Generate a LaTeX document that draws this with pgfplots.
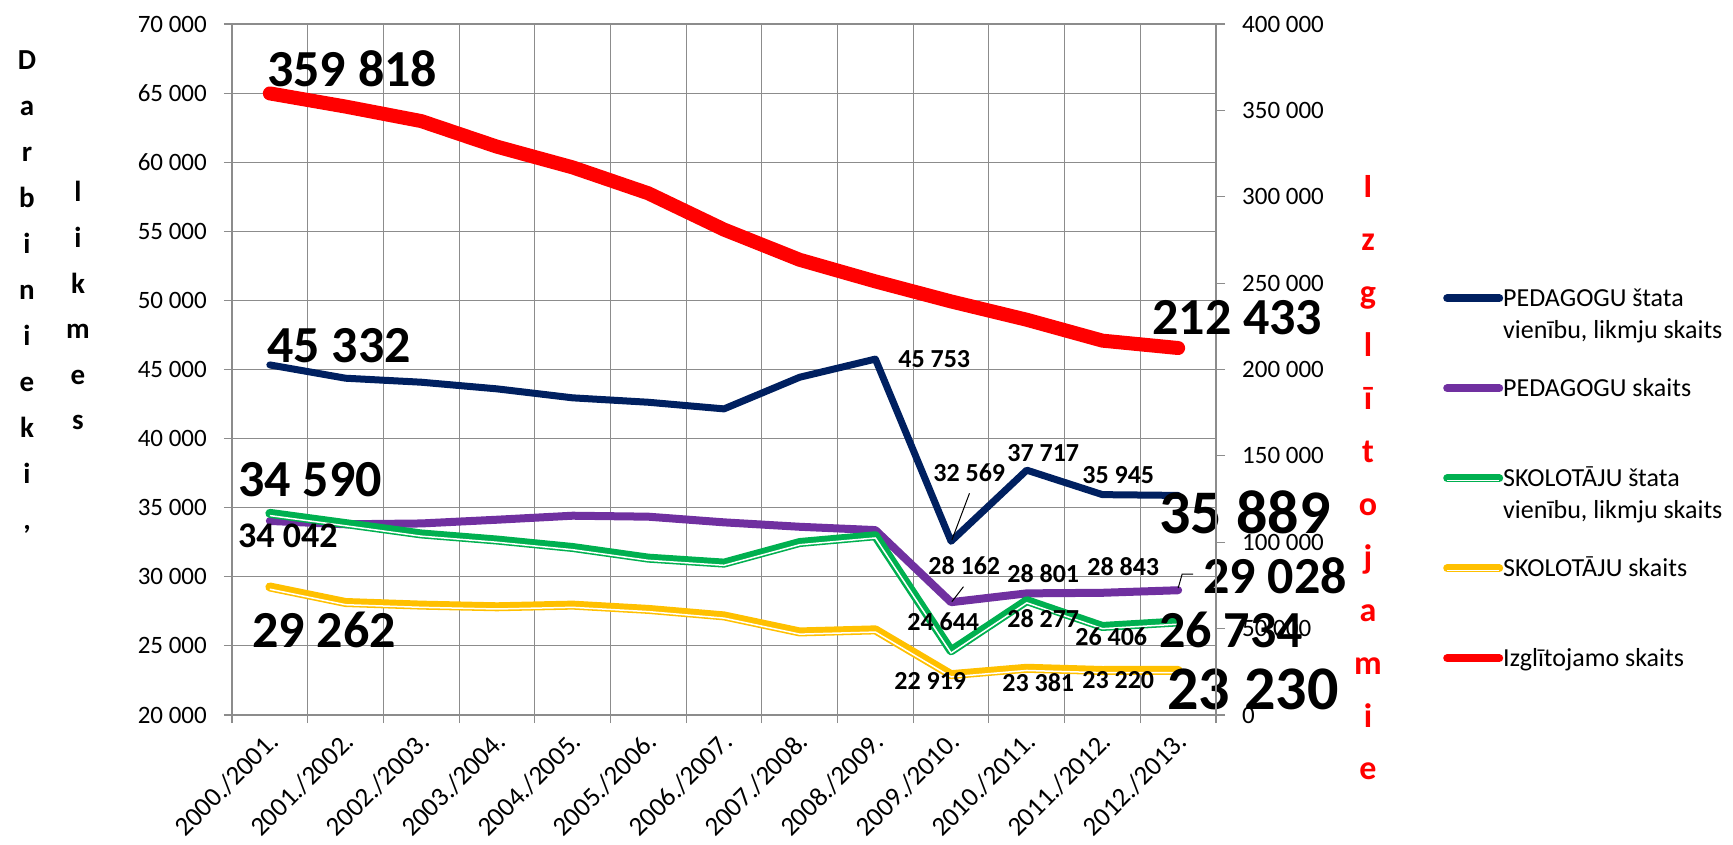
\documentclass[border=0pt]{standalone}
\usepackage{fontspec}
\setmainfont{Carlito}
\usepackage{pgfplots}
\usepackage{pgfplotstable}
\pgfplotsset{compat=1.18}
\definecolor{cnavy}{HTML}{002060}
\definecolor{cpurple}{HTML}{7030A0}
\definecolor{cgreen}{HTML}{00B050}
\definecolor{cyellow}{HTML}{FFC000}
\definecolor{cred}{HTML}{FF0000}
\definecolor{cgrid}{HTML}{8C8C8C}
\newcommand\fs[2]{\fontsize{#1}{#2}\selectfont}
\pgfplotstableread{
x ped pedsk sk sksk izgl
0 45332 34042 34590 29262 359818
1 44370 33800 33850 28140 352200
2 44080 33860 33100 27950 343800
3 43600 34130 32660 27830 329000
4 42950 34420 32120 27950 317000
5 42630 34350 31350 27640 302000
6 42150 33940 30990 27170 281000
7 44440 33620 32480 26010 263500
8 45753 33380 32970 26160 251000
9 32569 28162 24644 22919 239400
10 37717 28801 28277 23381 228800
11 35945 28843 26406 23220 216700
12 35889 29028 26734 23230 212433
}\data
\tikzset{
  lbl/.style={anchor=base west, inner sep=0pt, font=\bfseries\fs{26}{30}},
  medl/.style={anchor=base west, inner sep=0pt, font=\bfseries\fs{36}{40}},
  bigl/.style={anchor=base west, inner sep=0pt, font=\bfseries\fs{52}{60}},
  hugel/.style={anchor=base west, inner sep=0pt, font=\bfseries\fs{62}{70}},
}
\begin{document}
\begin{tikzpicture}
\begin{axis}[
  name=ax,
  scale only axis, width=984pt, height=691pt,
  clip=false,
  xmin=-0.5, xmax=12.5, ymin=20000, ymax=70000,
  scaled y ticks=false,
  ytick={20000,25000,30000,35000,40000,45000,50000,55000,60000,65000,70000},
  yticklabels={20 000,25 000,30 000,35 000,40 000,45 000,50 000,55 000,60 000,65 000,70 000},
  xtick={-0.5,0.5,...,12.5},
  xticklabels={},
  extra x ticks={0,1,...,12},
  extra x tick labels={2000./2001.,2001./2002.,2002./2003.,2003./2004.,2004./2005.,2005./2006.,2006./2007.,2007./2008.,2008./2009.,2009./2010.,2010./2011.,2011./2012.,2012./2013.},
  extra x tick style={grid=none, major tick length=0pt,
    xticklabel style={font=\fs{27}{32}, anchor=east, inner sep=0pt, xshift=4pt, yshift=-22pt, rotate=45}},
  xmajorgrids=true, ymajorgrids=true,
  grid style={cgrid, line width=1.1pt},
  axis line style={cgrid, line width=1.1pt},
  tick style={cgrid, line width=1.1pt},
  tick align=outside, tick pos=left,
  major tick length=8pt,
  yticklabel style={font=\fs{25}{30}, inner sep=0pt, anchor=east, xshift=-17pt},
]
\addplot[cnavy, line width=7pt, line join=round, line cap=round] table[x=x,y=ped]{\data};
\addplot[cpurple, line width=8pt, line join=round, line cap=round] table[x=x,y=pedsk]{\data};
\addplot[cgreen, line width=9pt, line join=round, line cap=round] table[x=x,y=sk]{\data};
\addplot[white, line width=1.5pt, line join=round, yshift=-2.2pt] table[x=x,y=sk]{\data};
\addplot[cyellow, line width=9pt, line join=round, line cap=round] table[x=x,y=sksk]{\data};
\addplot[white, line width=1.5pt, line join=round, yshift=-2.2pt] table[x=x,y=sksk]{\data};
\node[bigl, xshift=-2.8pt, yshift=2.9pt] at (axis cs:0,45332) {45 332};
\node[lbl, xshift=22.8pt, yshift=-8.9pt] at (axis cs:8,45753) {45 753};
\node[lbl, xshift=-17.9pt, yshift=59.3pt] at (axis cs:9,32569) {32 569};
\node[lbl, xshift=-19.6pt, yshift=8.2pt] at (axis cs:10,37717) {37 717};
\node[lbl, xshift=-20.3pt, yshift=11.6pt] at (axis cs:11,35945) {35 945};
\node[hugel, xshift=-19pt, yshift=-37.6pt] at (axis cs:12,35889) {35 889};
\node[bigl, xshift=-31.8pt, yshift=16.4pt] at (axis cs:0,34590) {34 590};
\node[medl, xshift=-31.8pt, yshift=-27pt] at (axis cs:0,34042) {34 042};
\node[bigl, xshift=-17.8pt, yshift=-60.9pt] at (axis cs:0,29262) {29 262};
\node[lbl, xshift=-22.9pt, yshift=28.2pt] at (axis cs:9,28162) {28 162};
\node[lbl, xshift=-19.6pt, yshift=10.4pt] at (axis cs:10,28801) {28 801};
\node[lbl, xshift=-15.3pt, yshift=16.8pt] at (axis cs:11,28843) {28 843};
\node[bigl, xshift=25pt, yshift=-2.8pt] at (axis cs:12,29028) {29 028};
\node[lbl, xshift=-43.9pt, yshift=20.8pt] at (axis cs:9,24644) {24 644};
\node[lbl, xshift=-19.6pt, yshift=-26.4pt] at (axis cs:10,28277) {28 277};
\node[lbl, xshift=-27.3pt, yshift=-19.5pt] at (axis cs:11,26406) {26 406};
\node[bigl, xshift=-19pt, yshift=-25.1pt] at (axis cs:12,26734) {26 734};
\node[lbl, xshift=-56.9pt, yshift=-15.3pt] at (axis cs:9,22919) {22 919};
\node[lbl, xshift=-24.6pt, yshift=-23.7pt] at (axis cs:10,23381) {23 381};
\node[lbl, xshift=-20.3pt, yshift=-17.5pt] at (axis cs:11,23220) {23 220};
\node[hugel, xshift=-11pt, yshift=-39.6pt] at (axis cs:12,23230) {23 230};
\draw[black, line width=1pt] (axis cs:9,32569) ++(18.4pt,48pt) -- ++(-17.6pt,-46.7pt);
\draw[black, line width=1pt] (axis cs:9,28162) ++(12.4pt,15.5pt) -- ++(-11.6pt,-15pt);
\draw[black, line width=1pt] (axis cs:12,29028) ++(0pt,2.2pt) -- ++(4pt,14pt) -- ++(11pt,0pt);
\end{axis}
\begin{axis}[
  scale only axis, width=984pt, height=691pt,
  clip=false,
  xmin=-0.5, xmax=12.5, ymin=0, ymax=400000,
  scaled y ticks=false,
  axis x line=none,
  axis y line*=right,
  ytick={0,50000,100000,150000,200000,250000,300000,350000,400000},
  yticklabels={0,50 000,100 000,150 000,200 000,250 000,300 000,350 000,400 000},
  axis line style={cgrid, line width=1.1pt, -},
  tick style={cgrid, line width=1.1pt},
  tick align=outside,
  major tick length=9pt,
  yticklabel style={font=\fs{25}{30}, inner sep=0pt, anchor=west, xshift=17pt},
  legend style={draw=none, fill=none, inner sep=0pt, row sep=58pt, column sep=0pt,
    at={(1.2307,0.6243)}, anchor=north west,
    cells={anchor=base west},
    nodes={inner sep=0pt, text height=22.4pt, text depth=9.6pt},
    font=\fs{26}{32}},
]
\addlegendimage{legend image code/.code={\draw[cnavy, line width=8pt, line cap=round] (4pt,8pt) -- (56pt,8pt);}}
\addlegendentry{\rlap{\smash{\raisebox{-32pt}{vienību, likmju skaits}}}PEDAGOGU štata}
\addlegendimage{legend image code/.code={\draw[cpurple, line width=8pt, line cap=round] (4pt,8pt) -- (56pt,8pt);}}
\addlegendentry{PEDAGOGU skaits}
\addlegendimage{legend image code/.code={\draw[cgreen, line width=8pt, line cap=round] (4pt,8pt) -- (56pt,8pt); \draw[white, line width=1.3pt] (4pt,6pt) -- (56pt,6pt);}}
\addlegendentry{\rlap{\smash{\raisebox{-32pt}{vienību, likmju skaits}}}SKOLOTĀJU štata}
\addlegendimage{legend image code/.code={\draw[cyellow, line width=8pt, line cap=round] (4pt,8pt) -- (56pt,8pt); \draw[white, line width=1.3pt] (4pt,6pt) -- (56pt,6pt);}}
\addlegendentry{SKOLOTĀJU skaits}
\addplot[cred, line width=14pt, line join=round, line cap=round,
  legend image code/.code={\draw[cred, line width=8pt, line cap=round] (4pt,8pt) -- (56pt,8pt);}] table[x=x,y=izgl]{\data};
\addlegendentry{Izglītojamo skaits}
\node[bigl, xshift=-2.8pt, yshift=6.5pt] at (axis cs:0,359818) {359 818};
\node[bigl, xshift=-26pt, yshift=14pt] at (axis cs:12,212433) {212 433};
\end{axis}
\begin{scope}[x=1pt,y=1pt]
\foreach \c [count=\k from 0] in {D,a,r,b,i,n,i,e,k,i,{,}}
  \node[anchor=base, inner sep=0pt, font=\bfseries\fs{29}{34}] at (-205, 645-46*\k) {\c};
\foreach \c [count=\k from 0] in {l,i,k,m,e,s}
  \node[anchor=base, inner sep=0pt, font=\bfseries\fs{29}{34}] at (-154, 513-45.6*\k) {\c};
\foreach \c [count=\k from 0] in {I,z,g,l,ī,t,o,j,a,m,i,e}
  \node[anchor=base, inner sep=0pt, text=cred, font=\bfseries\fs{34}{40}] at (1136, 517-52.9*\k) {\c};
\end{scope}
\pgfresetboundingbox
\path[use as bounding box] (-232pt,-129pt) rectangle (1501pt,715pt);
\end{tikzpicture}
\end{document}
